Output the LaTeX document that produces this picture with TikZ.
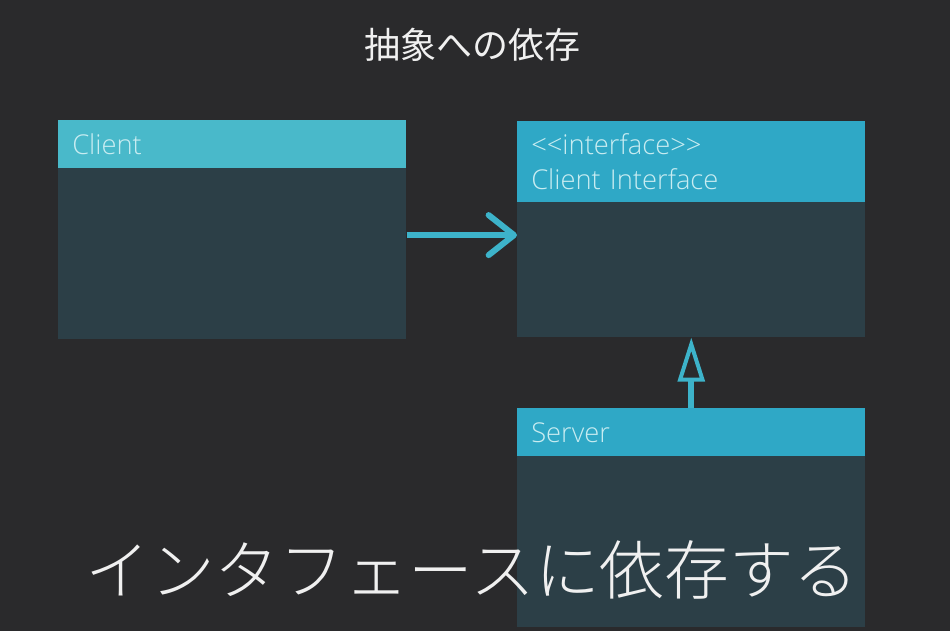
\documentclass[tikz,border=0pt]{standalone}
\usepackage{fontspec}
\setmainfont{Open Sans Light}
\newfontfamily\jpfont{Noto Sans CJK JP}
\newfontfamily\jplight{Noto Sans CJK JP Light}
\usetikzlibrary{arrows.meta}

\definecolor{bgcol}{HTML}{2A2A2C}
\definecolor{bodycol}{HTML}{2C3F47}
\definecolor{clienthead}{HTML}{49B9CA}
\definecolor{ifacehead}{HTML}{2FA8C6}
\definecolor{headtxt}{HTML}{C8ECF1}
\definecolor{arrowcol}{HTML}{3DB3CA}

\begin{document}
\begin{tikzpicture}[x=0.75pt,y=0.75pt,yscale=-1,xscale=1,
  classbox/.style={fill=bodycol, minimum width=261pt, inner sep=0pt, anchor=north west},
  classhead/.style={minimum width=261pt, text width=240pt, inner xsep=10.5pt, inner ysep=0pt, align=left, anchor=north west, text=headtxt, font=\fontsize{20.5}{26}\selectfont},
  dep/.style={line width=4.5pt, color=arrowcol, -{Straight Barb[length=19pt,width=30pt,round]}},
  impl/.style={line width=4.5pt, color=arrowcol, -{Triangle[open,length=33pt,width=20pt,line width=3pt]}}
]
%background
\useasboundingbox (0,0) rectangle (950,631);
\fill[bgcol] (0,0) rectangle (950,631);

% Title
\node[text=white!94!black, font=\jpfont\fontsize{27}{30}\selectfont] (title) at (472,45) {抽象への依存};

% Client
\node[classbox, minimum height=164.25pt] (client) at (58,120) {};
\node[classhead, fill=clienthead, minimum height=36pt] (clienth) at (58,120) {Client};

% Client Interface
\node[classbox, minimum height=162pt] (iface) at (517,121) {};
\node[classhead, fill=ifacehead, minimum height=60.75pt] (ifaceh) at (517,121) {<{}<interface>{}>\\Client Interface};

% Server
\node[classbox, minimum height=164.25pt] (server) at (517,408) {};
\node[classhead, fill=ifacehead, minimum height=36pt] (serverh) at (517,408) {Server};

% Connectors
\draw[dep] ([yshift=4pt]client.east) -- ([yshift=4pt]client.east -| iface.west);
\draw[impl] (server.north) -- (iface.south);

% Caption
\node[text=white!94!black, font=\jplight\fontsize{48.5}{50}\selectfont] (caption) at (472,570) {インタフェースに依存する};

\end{tikzpicture}
\end{document}
